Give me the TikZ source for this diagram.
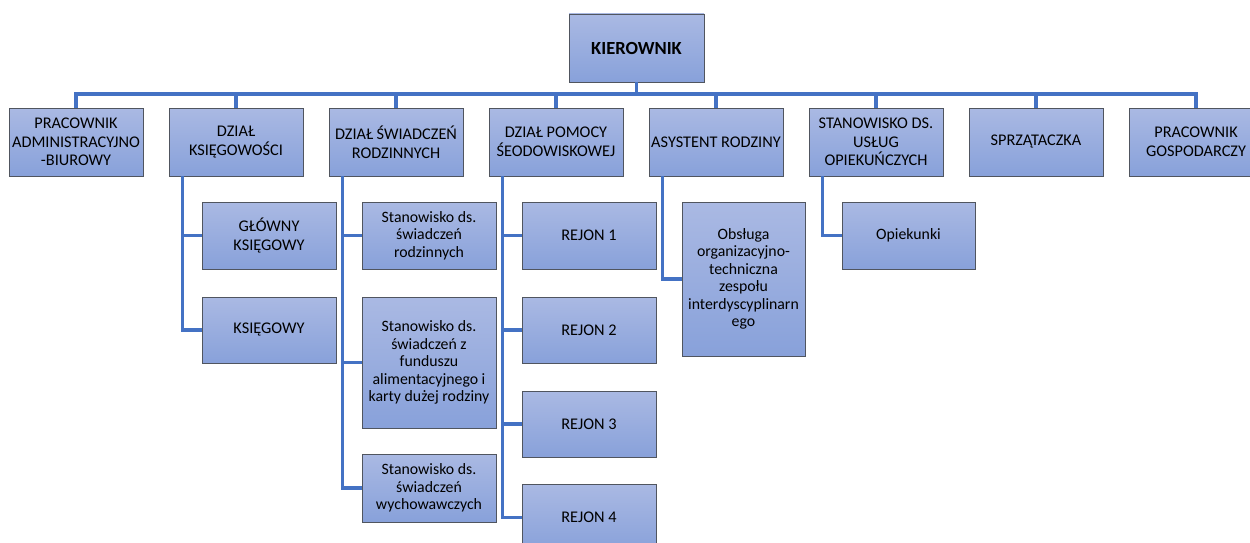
\documentclass[tikz,border=0pt]{standalone}
\usepackage{fontspec}
\setmainfont{Carlito}
\definecolor{boxtop}{RGB}{170,185,227}
\definecolor{boxbot}{RGB}{136,161,218}
\definecolor{boxborder}{RGB}{80,85,95}
\definecolor{connblue}{RGB}{68,114,196}
\tikzset{
  box/.style={draw=boxborder, line width=0.9pt, top color=boxtop, bottom color=boxbot,
    minimum width=134pt, minimum height=68pt, inner sep=0pt, align=center,
    font=\fontsize{16.3}{18.5}\selectfont, text=black},
  lowbox/.style={box, font=\fontsize{15.8}{17.5}\selectfont},
  conn/.style={draw=connblue, line width=3.2pt},
}
\begin{document}
\begin{tikzpicture}[x=1pt,y=-1pt]
\useasboundingbox (0,0) rectangle (1250,543);
\clip (0,0) rectangle (1250,543);
% head
\node[box, minimum width=135pt, font=\fontsize{18.5}{20}\selectfont\bfseries] (kier) at (636.5,48) {KIEROWNIK};
% top row
\node[box] (p1) at (76,142) {PRACOWNIK\\ADMINISTRACYJNO\\-BIUROWY};
\node[box] (p2) at (236,142) {DZIAŁ\\KSIĘGOWOŚCI};
\node[box] (p3) at (396,142) {DZIAŁ ŚWIADCZEŃ\\RODZINNYCH};
\node[box] (p4) at (556,142) {DZIAŁ POMOCY\\ŚEODOWISKOWEJ};
\node[box] (p5) at (716,142) {ASYSTENT RODZINY};
\node[box] (p6) at (876,142) {STANOWISKO DS.\\USŁUG\\OPIEKUŃCZYCH};
\node[box] (p7) at (1036,142) {SPRZĄTACZKA};
\node[box] (p8) at (1196,142) {PRACOWNIK\\GOSPODARCZY};
% children
\node[box, minimum height=67pt] (gk) at (269,235.5) {GŁÓWNY\\KSIĘGOWY};
\node[box, minimum height=66pt] (k) at (269,330) {KSIĘGOWY};
\node[lowbox, minimum height=67pt] (s1) at (429,235.5) {Stanowisko ds.\\świadczeń\\rodzinnych};
\node[lowbox, minimum height=131pt] (s2) at (429,362.5) {Stanowisko ds.\\świadczeń z\\funduszu\\alimentacyjnego i\\karty dużej rodziny};
\node[lowbox, minimum height=68pt] (s3) at (429,488) {Stanowisko ds.\\świadczeń\\wychowawczych};
\node[box, minimum height=67pt] (r1) at (589,235.5) {REJON 1};
\node[box, minimum height=66pt] (r2) at (589,330) {REJON 2};
\node[box, minimum height=66pt] (r3) at (589,424) {REJON 3};
\node[box, minimum height=67pt] (r4) at (589,517.5) {REJON 4};
\node[lowbox, minimum width=123pt, minimum height=154pt] (ob) at (743.5,279) {Obsługa\\organizacyjno-\\techniczna\\zespołu\\interdyscyplinarn\\ego};
\node[lowbox, minimum width=133pt, minimum height=67pt] (op) at (908.5,235.5) {Opiekunki};
% connectors
\coordinate (bus) at (636.5,94);
\draw[conn] (kier.south) -- (bus);
\draw[conn] (p1.north) -- (p1.north |- bus) -- (p8.north |- bus) -- (p8.north);
\foreach \n in {p2,p3,p4,p5,p6,p7} \draw[conn] (\n.north) -- (\n.north |- bus);
\draw[conn] ([xshift=14pt]p2.south west) |- (gk.west);
\draw[conn] ([xshift=14pt]p2.south west) |- (k.west);
\draw[conn] ([xshift=14pt]p3.south west) |- (s1.west);
\draw[conn] ([xshift=14pt]p3.south west) |- (s2.west);
\draw[conn] ([xshift=14pt]p3.south west) |- (s3.west);
\draw[conn] ([xshift=14pt]p4.south west) |- (r1.west);
\draw[conn] ([xshift=14pt]p4.south west) |- (r2.west);
\draw[conn] ([xshift=14pt]p4.south west) |- (r3.west);
\draw[conn] ([xshift=14pt]p4.south west) |- (r4.west);
\draw[conn] ([xshift=14pt]p5.south west) |- (ob.west);
\draw[conn] ([xshift=14pt]p6.south west) |- (op.west);
\end{tikzpicture}
\end{document}
